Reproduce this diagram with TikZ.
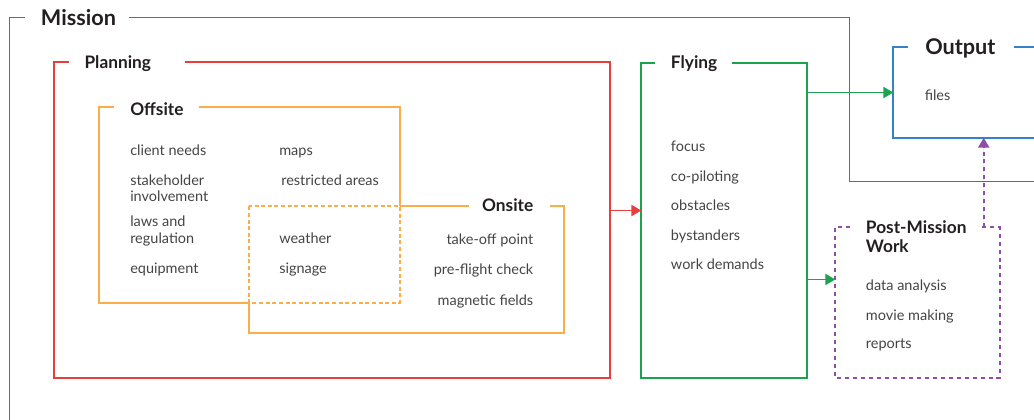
\documentclass[tikz,border=0pt]{standalone}
\usepackage{fontspec}
\setmainfont{Lato}
\usetikzlibrary{arrows.meta,calc,fit}
\definecolor{cmission}{HTML}{D63C47}
\definecolor{cplan}{HTML}{E5403D}
\definecolor{corange}{HTML}{F9AE4B}
\definecolor{cgreen}{HTML}{1DA34F}
\definecolor{cblue}{HTML}{3483C6}
\definecolor{cpurple}{HTML}{8E4FA8}
\definecolor{ctext}{HTML}{444444}
\definecolor{ctitle}{HTML}{231F20}
\begin{document}
\begin{tikzpicture}[x=0.75bp,y=-0.75bp,
  frame/.style={line width=1.2pt},
  area/.style={inner sep=0pt, draw=none},
  item/.style={anchor=base west, inner sep=0pt, text=ctext, align=left, font=\fontsize{10.9}{12.4}\selectfont},
  itemr/.style={item, anchor=base east, align=right},
  title/.style={anchor=base west, inner sep=0pt, text=ctitle, align=left, font=\bfseries\fontsize{13}{14.6}\selectfont},
  bigtitle/.style={title, font=\bfseries\fontsize{16.3}{19}\selectfont},
  tip/.style={-{Triangle[length=7.5pt,width=8.5pt]}},
  odash/.style={dash pattern=on 3pt off 2pt},
  pdash/.style={dash pattern=on 3pt off 3pt}]
\useasboundingbox (0,0) rectangle (1034,419);

% areas
\node[area, fit={(54.5,62.5)(609.5,377.5)}] (planning) {};
\node[area, fit={(99.5,107.5)(399.5,302.5)}] (offsite) {};
\node[area, fit={(249.5,206.5)(563.5,332.5)}] (onsite) {};
\node[area, fit={(641.5,63.5)(806.5,377.5)}] (flying) {};
\node[area, fit={(893.5,47.5)(1040,137.5)}] (output) {};
\node[area, fit={(835.5,227.5)(999.5,377.5)}] (post) {};

% mission frame
\draw[frame, draw=cmission] (1040,181.5) -- (849.5,181.5) -- (849.5,17.5) -- (129,17.5);
\draw[frame, draw=cmission] (25,17.5) -- (9.5,17.5) -- (9.5,425);

% planning
\draw[frame, draw=cplan] ($(planning.north west)+(14.5,0)$) -- (planning.north west) -- (planning.south west)
  -- (planning.south east) -- (planning.north east) -- ($(planning.north west)+(130.5,0)$);

% offsite
\draw[frame, draw=corange] ($(offsite.north west)+(14.5,0)$) -- (offsite.north west) -- (offsite.south west)
  -- (offsite.south west -| onsite.west);
\draw[frame, draw=corange] ($(offsite.north west)+(99.5,0)$) -- (offsite.north east) -- (offsite.north east |- onsite.north);

% onsite
\draw[frame, draw=corange] (offsite.north east |- onsite.north) -- ($(onsite.north east)+(-95,0)$);
\draw[frame, draw=corange] ($(onsite.north east)+(-14,0)$) -- (onsite.north east) -- (onsite.south east)
  -- (onsite.south west) -- (onsite.west |- offsite.south);
\draw[frame, draw=corange, odash] (onsite.north west) rectangle (offsite.south east);

% flying
\draw[frame, draw=cgreen] ($(flying.north west)+(14,0)$) -- (flying.north west) -- (flying.south west)
  -- (flying.south east) -- (flying.north east) -- ($(flying.north west)+(90.5,0)$);

% output
\draw[frame, draw=cblue] ($(output.north west)+(15,0)$) -- (output.north west) -- (output.south west) -- (output.south east);
\draw[frame, draw=cblue] ($(output.north west)+(121,0)$) -- (output.north east);

% post-mission
\draw[frame, draw=cpurple, pdash] ($(post.north west)+(15,0)$) -- (post.north west) -- (post.south west)
  -- (post.south east) -- (post.north east) -- ($(post.north east)+(-21,0)$);

% connectors
\coordinate (flyin) at ($(flying.north west)!0.4682!(flying.south west)$);
\draw[frame, draw=cplan, fill=cplan, tip] (planning.east |- flyin) -- (flyin);
\draw[frame, draw=cgreen, fill=cgreen, tip] (flying.east |- output.west) -- (output.west);
\coordinate (postin) at ($(post.north west)!0.3467!(post.south west)$);
\draw[frame, draw=cgreen, fill=cgreen, tip] (flying.east |- postin) -- (postin);
\coordinate (postup) at ($(post.north west)!0.9024!(post.north east)$);
\draw[frame, draw=cpurple, fill=cpurple, pdash, tip] (postup) -- (postup |- output.south);

% titles
\node[bigtitle] (tmission) at (40.7,25) {Mission};
\node[title] (tplanning) at (84.3,68.3) {Planning};
\node[title] (toffsite) at (130,115) {Offsite};
\node[title, anchor=base east] (tonsite) at (533.5,211) {Onsite};
\node[title] (tflying) at (670.7,68.5) {Flying};
\node[bigtitle] (toutput) at (925,54.5) {Output};
\node[title] (tpost) at (865.7,252.5) {Post-Mission\\Work};

% items: offsite
\node[item] (i1) at (130,155) {client needs};
\node[item] (i2) at (130,201.5) {stakeholder\\involvement};
\node[item] (i3) at (130,243) {laws and\\regulation};
\node[item] (i4) at (130,273.3) {equipment};
\node[item] (i5) at (279,155) {maps};
\node[item] (i6) at (281,185) {restricted areas};
\node[item] (i7) at (279,243.5) {weather};
\node[item] (i8) at (279,273.5) {signage};
% onsite
\node[itemr] (j1) at (533.5,244) {take-off point};
\node[itemr] (j2) at (533.5,274) {pre-flight check};
\node[itemr] (j3) at (533.5,305) {magnetic fields};
% flying
\node[item] (f1) at (670.7,151.7) {focus};
\node[item] (f2) at (670.7,181) {co-piloting};
\node[item] (f3) at (670.7,210.7) {obstacles};
\node[item] (f4) at (670.7,240.5) {bystanders};
\node[item] (f5) at (670.7,269.5) {work demands};
% output
\node[item] (o1) at (924.5,100) {files};
% post
\node[item] (p1) at (865.7,290) {data analysis};
\node[item] (p2) at (865.7,320) {movie making};
\node[item] (p3) at (865.7,348.5) {reports};
\end{tikzpicture}
\end{document}
